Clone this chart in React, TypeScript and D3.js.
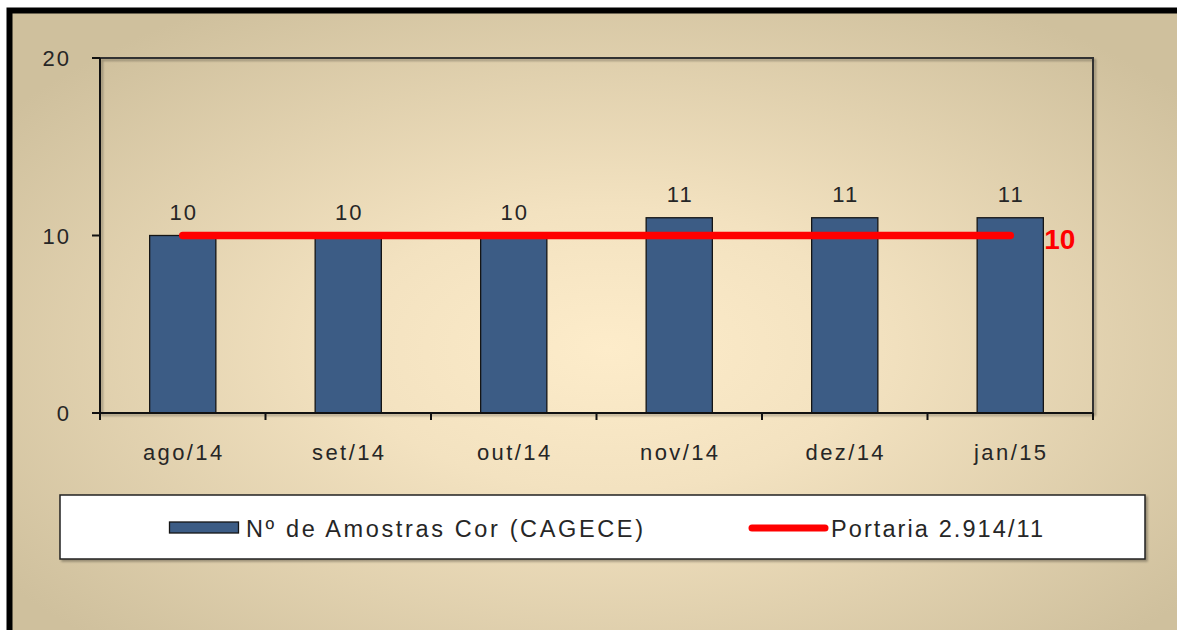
import React from "react";
import * as d3 from "d3";

const categories = ["ago/14", "set/14", "out/14", "nov/14", "dez/14", "jan/15"];
const amostras = [10, 10, 10, 11, 11, 11];
const portaria = [10, 10, 10, 10, 10, 10];
const yTicks = [0, 10, 20];
const seriesNames = ["Nº de Amostras Cor (CAGECE)", "Portaria 2.914/11"];

const W = 1177;
const H = 630;
const plot = { left: 100, right: 1093, top: 58, bottom: 413 };
const FONT = "'Liberation Sans', Arial, sans-serif";
const TXT = "#262626";

export default function App() {
  const x = d3
    .scaleBand<string>()
    .domain(categories)
    .range([plot.left, plot.right])
    .paddingInner(0.6)
    .paddingOuter(0.3);
  const xc = d3.scaleBand<string>().domain(categories).range([plot.left, plot.right]);
  const y = d3.scaleLinear().domain([0, 20]).range([plot.bottom, plot.top]);

  const line = d3
    .line<number>()
    .x((_, i) => (xc(categories[i]) as number) + xc.bandwidth() / 2)
    .y((d) => y(d));

  const lastX = (xc(categories[categories.length - 1]) as number) + xc.bandwidth() / 2;

  return (
    <svg
      width={W}
      height={H}
      style={{ position: "absolute", left: 0, top: 0, display: "block" }}
      fontFamily={FONT}
    >
      <defs>
        <radialGradient id="bg" cx="0.5" cy="0.52" r="0.62" gradientUnits="objectBoundingBox">
          <stop offset="0" stopColor="#fdecca" />
          <stop offset="0.35" stopColor="#f3e2c0" />
          <stop offset="1" stopColor="#cfc09d" />
        </radialGradient>
        <filter id="sh" x="-5%" y="-5%" width="110%" height="120%">
          <feDropShadow dx="2" dy="2" stdDeviation="1" floodColor="#000" floodOpacity="0.3" />
        </filter>
      </defs>
      <rect x={0} y={0} width={W} height={H} fill="#fff" />
      <rect x={9.5} y={10.5} width={W + 20} height={H + 20} fill="url(#bg)" stroke="#000" strokeWidth={6} />

      {/* plot frame */}
      <rect
        x={plot.left}
        y={plot.top}
        width={plot.right - plot.left}
        height={plot.bottom - plot.top}
        fill="none"
        stroke="#333"
        strokeWidth={2}
        filter="url(#sh)"
      />

      {/* bars */}
      {amostras.map((v, i) => (
        <rect
          key={i}
          x={x(categories[i])}
          y={y(v)}
          width={x.bandwidth()}
          height={y(0) - y(v)}
          fill="#3c5c85"
          stroke="#151515"
          strokeWidth={1.3}
        />
      ))}

      {/* bar labels */}
      {amostras.map((v, i) => (
        <text
          key={i}
          x={(x(categories[i]) as number) + x.bandwidth() / 2 + 1}
          y={y(v) - 16}
          textAnchor="middle"
          fontSize={22}
          letterSpacing={2}
          fill={TXT}
        >
          {v}
        </text>
      ))}

      {/* axes */}
      <line x1={plot.left} x2={plot.left} y1={plot.top} y2={plot.bottom} stroke="#111" strokeWidth={2} />
      <line x1={plot.left} x2={plot.right} y1={plot.bottom} y2={plot.bottom} stroke="#111" strokeWidth={2} />
      {yTicks.map((t) => (
        <g key={t}>
          <line x1={plot.left - 8} x2={plot.left} y1={y(t)} y2={y(t)} stroke="#111" strokeWidth={2} />
          <text x={71} y={y(t) + 8} textAnchor="end" fontSize={22} letterSpacing={2} fill={TXT}>
            {t}
          </text>
        </g>
      ))}
      {[...categories.map((c) => xc(c) as number), plot.right].map((px, i) => (
        <line key={i} x1={px} x2={px} y1={plot.bottom} y2={plot.bottom + 7} stroke="#111" strokeWidth={2} />
      ))}
      {categories.map((c) => (
        <text
          key={c}
          x={(xc(c) as number) + xc.bandwidth() / 2 + 1}
          y={460}
          textAnchor="middle"
          fontSize={22}
          letterSpacing={2.4}
          fill={TXT}
        >
          {c}
        </text>
      ))}

      {/* reference line */}
      <path d={line(portaria) || ""} fill="none" stroke="#ff0000" strokeWidth={7.5} strokeLinecap="round" />
      <text
        x={lastX + 34}
        y={y(portaria[portaria.length - 1]) + 13}
        fontSize={28}
        fontWeight="bold"
        fill="#ff0000"
      >
        {portaria[portaria.length - 1]}
      </text>

      {/* legend */}
      <rect x={60} y={495} width={1085} height={64} fill="#fff" stroke="#222" strokeWidth={1.5} filter="url(#sh)" />
      <rect x={169.5} y={522} width={69} height={11} fill="#3c5c85" stroke="#151515" strokeWidth={1.3} />
      <text x={246} y={537} fontSize={23.5} fill={TXT} textLength={397} lengthAdjust="spacing">
        {seriesNames[0]}
      </text>
      <line x1={752} x2={825} y1={528} y2={528} stroke="#ff0000" strokeWidth={7} strokeLinecap="round" />
      <text x={831} y={537} fontSize={23.5} fill={TXT} textLength={212} lengthAdjust="spacing">
        {seriesNames[1]}
      </text>
    </svg>
  );
}
